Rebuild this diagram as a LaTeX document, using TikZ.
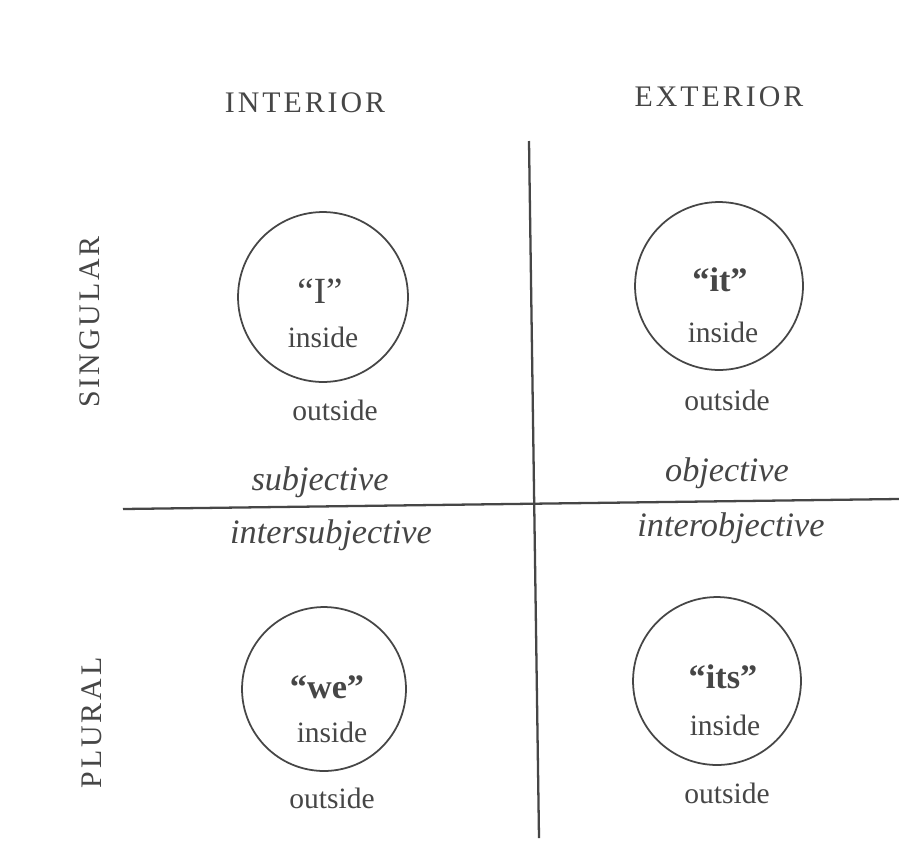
\documentclass[tikz,border=0pt]{standalone}
\usepackage{fontspec}
\setmainfont{Liberation Serif}
\definecolor{inkgray}{RGB}{70,70,70}
\tikzset{
  ring/.style={circle, draw=inkgray, line width=1pt, inner sep=0pt},
  word/.style={inner sep=0pt, text=inkgray, font=\fontsize{16.8}{20}\selectfont},
  pron/.style={inner sep=0pt, text=inkgray, font=\fontsize{19.5}{22}\selectfont\bfseries},
  quadname/.style={inner sep=0pt, text=inkgray, font=\fontsize{19.5}{23}\selectfont\itshape},
  heading/.style={inner sep=0pt, text=inkgray, font=\fontsize{17}{20}\selectfont\addfontfeature{LetterSpace=10}},
  divider/.style={draw=inkgray, line width=1.3pt}
}

\begin{document}
\begin{tikzpicture}[x=0.02cm, y=-0.02cm]
  \useasboundingbox[fill=white] (0,0) rectangle (899,866);
  % axes of the quadrants
  \coordinate (vtop) at (529,141);
  \coordinate (vbot) at (539,838);
  \coordinate (hleft) at (123,509);
  \coordinate (hright) at (899,499);
  \draw[divider] (vtop) -- (vbot);
  \draw[divider] (hleft) -- (hright);
  % headings
  \node[heading] (interior) at (305,103) {INTERIOR};
  \node[heading] (exterior) at (719,97) {EXTERIOR};
  \node[heading, rotate=90] (singular) at (90,322) {SINGULAR};
  \node[heading, rotate=90] (plural) at (92,723) {PLURAL};
  % circles
  \foreach \n/\x/\y/\r in {I/323/297/85, it/719/286/84, we/324/689/82, its/717/681/84} {
    \node[ring, minimum size=\r*0.04cm] (c\n) at (\x,\y) {};
  }
  % upper left
  \node[word] (qI) at (320,291) {\fontsize{21}{24}\selectfont``I''};
  \node[word] (inI) at (323,337) {inside};
  \node[word] (outI) at (335,410) {outside};
  \node[quadname] (subj) at (320,482) {subjective};
  % upper right
  \node[pron] (qit) at (720,280) {``it''};
  \node[word] (init) at (723,332) {inside};
  \node[word] (outit) at (727,400) {outside};
  \node[quadname] (obj) at (727,473) {objective};
  % lower left
  \node[quadname] (intsubj) at (331,535) {intersubjective};
  \node[pron] (qwe) at (327,687) {``we''};
  \node[word] (inwe) at (332,732) {inside};
  \node[word] (outwe) at (332,798) {outside};
  % lower right
  \node[quadname] (intobj) at (731,528) {interobjective};
  \node[pron] (qits) at (723,677) {``its''};
  \node[word] (inits) at (725,725) {inside};
  \node[word] (outits) at (727,793) {outside};
\end{tikzpicture}
\end{document}
